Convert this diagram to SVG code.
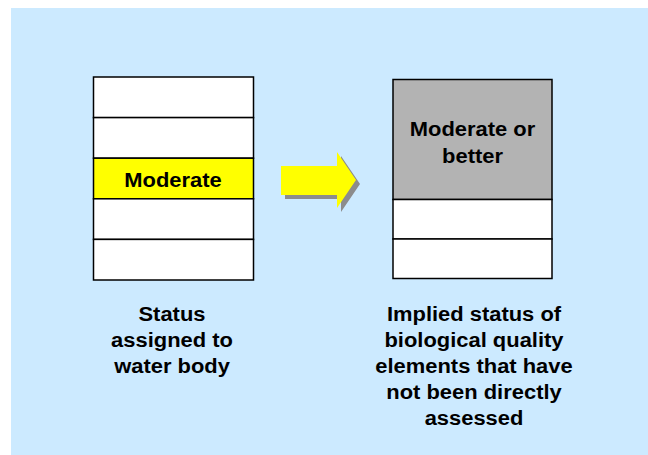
<svg xmlns="http://www.w3.org/2000/svg" width="648" height="455" viewBox="0 0 648 455">
<style>
.cell{stroke:#000;stroke-width:1.5}
.lbl{font-family:"Liberation Sans",Arial,sans-serif;font-weight:bold;font-size:20.5px;fill:#000;text-anchor:middle}
</style>
<rect x="0" y="0" width="648" height="455" fill="#fff"/>
<rect x="11" y="8" width="637" height="447" fill="#cceaff"/>
<g id="assigned-stack">
<rect class="cell" x="93.5" y="77" width="160" height="40.6" fill="#fff"/>
<rect class="cell" x="93.5" y="117.6" width="160" height="40.6" fill="#fff"/>
<rect class="cell" x="93.5" y="158.2" width="160" height="40.6" fill="#ffff00"/>
<rect class="cell" x="93.5" y="198.8" width="160" height="40.6" fill="#fff"/>
<rect class="cell" x="93.5" y="239.4" width="160" height="40.6" fill="#fff"/>
<text class="lbl" transform="translate(173,186.5) scale(1.07,1)">Moderate</text>
</g>
<g id="connectors">
<polygon points="285,170 341,170 341,156 360,184 341,212 341,199 285,199" fill="#8c8c8c"/>
<polygon points="281,166 337,166 337,152 356,180 337,208 337,195 281,195" fill="#ffff00"/>
</g>
<g id="implied-stack">
<rect class="cell" x="393" y="79.5" width="159" height="120" fill="#b3b3b3"/>
<rect class="cell" x="393" y="199.5" width="159" height="39.5" fill="#fff"/>
<rect class="cell" x="393" y="239" width="159" height="39.5" fill="#fff"/>
<text class="lbl" transform="translate(472.5,135.5) scale(1.07,1)">Moderate or</text>
<text class="lbl" transform="translate(472.5,162.5) scale(1.07,1)">better</text>
</g>
<g id="caption-left">
<text class="lbl" transform="translate(172,320.5) scale(1.07,1)">Status</text>
<text class="lbl" transform="translate(172,346.8) scale(1.07,1)">assigned to</text>
<text class="lbl" transform="translate(172,373) scale(1.07,1)">water body</text>
</g>
<g id="caption-right">
<text class="lbl" transform="translate(474,320.5) scale(1.07,1)">Implied status of</text>
<text class="lbl" transform="translate(474,346.5) scale(1.07,1)">biological quality</text>
<text class="lbl" transform="translate(474,372.5) scale(1.07,1)">elements that have</text>
<text class="lbl" transform="translate(474,398.5) scale(1.07,1)">not been directly</text>
<text class="lbl" transform="translate(474,424.5) scale(1.07,1)">assessed</text>
</g>
</svg>
